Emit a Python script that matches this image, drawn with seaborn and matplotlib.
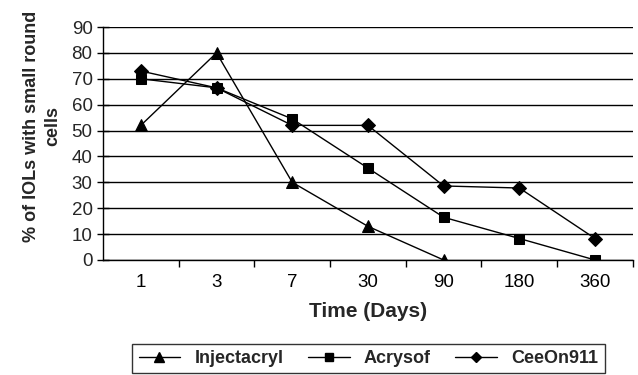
import matplotlib
matplotlib.use("Agg")
import matplotlib.pyplot as plt
from matplotlib.ticker import MultipleLocator, FixedLocator
from matplotlib.lines import Line2D
import seaborn as sns
import pandas as pd
import numpy as np

days = ["1", "3", "7", "30", "90", "180", "360"]
injectacryl = [52, 80, 30, 13, 0, np.nan, np.nan]
acrysof = [70, 66.5, 54.5, 35.5, 16.5, 8.3, 0]
ceeon911 = [73, 66.5, 52, 52, 28.6, 27.8, 8.3]
series_names = ["Injectacryl", "Acrysof", "CeeOn911"]

sns.set_theme(style="white")
plt.rcParams['font.family'] = ['Liberation Sans', 'DejaVu Sans']

rows = []
for name, vals in zip(series_names, [injectacryl, acrysof, ceeon911]):
    for i, (d, v) in enumerate(zip(days, vals)):
        rows.append({"pos": i, "day": d, "value": v, "series": name})
df = pd.DataFrame(rows).dropna()

fig = plt.figure(figsize=(6.38, 3.75), dpi=100)
ax = fig.add_axes([0.1614, 0.3067, 0.992 - 0.1614, 0.928 - 0.3067])

markers = {"Injectacryl": "^", "Acrysof": "s", "CeeOn911": "D"}
sizes = {"Injectacryl": 8.8, "Acrysof": 7.5, "CeeOn911": 6.8}
for name in series_names:
    sub = df[df.series == name]
    sns.lineplot(data=sub, x="pos", y="value", ax=ax, color="black", lw=1,
                 marker=markers[name], markersize=sizes[name], markeredgecolor="black",
                 markerfacecolor="black", label=name, legend=False, zorder=3)

ax.set_xlim(-0.5, 6.5)
ax.set_ylim(0, 90)
ax.yaxis.set_major_locator(MultipleLocator(10))
ax.set_xticks(range(len(days)))
ax.set_xticklabels(days)
ax.xaxis.set_minor_locator(FixedLocator([i + 0.5 for i in range(len(days))]))
ax.tick_params(axis='x', which='major', length=0, labelsize=13.5, pad=10, colors='black')
ax.tick_params(axis='x', which='minor', length=5, width=1, direction='out', color='black', bottom=True)
ax.tick_params(axis='y', which='major', length=9, width=1, direction='inout', labelsize=13.5,
               color='black', left=True, pad=3)
ax.grid(axis='y', color='black', lw=1)
ax.set_axisbelow(True)
for s in ['top', 'right']:
    ax.spines[s].set_visible(False)
for s in ['left', 'bottom']:
    ax.spines[s].set_color('black')
    ax.spines[s].set_linewidth(1)
ax.set_xlabel("Time (Days)", fontsize=15, fontweight='bold', labelpad=8)
ax.set_ylabel("% of IOLs with small round\ncells", fontsize=13, fontweight='bold',
              linespacing=1.3)
ax.yaxis.set_label_coords(-0.079, 0.573)

handles = []
for name in series_names:
    handles.append(Line2D([], [], color='black', lw=1, marker=markers[name],
                          markersize=sizes[name] * 0.75, markerfacecolor='black'))
leg = fig.legend(handles, series_names, loc='center', bbox_to_anchor=(368.5 / 638, 1 - 358.5 / 375),
                 ncol=3, frameon=True, fancybox=False, edgecolor='black',
                 prop={'weight': 'bold', 'size': 13}, handlelength=2.3, columnspacing=1.35,
                 borderpad=0.35, handletextpad=0.8, borderaxespad=0)
leg.get_frame().set_linewidth(1)

fig.savefig("out.png", dpi=100)
